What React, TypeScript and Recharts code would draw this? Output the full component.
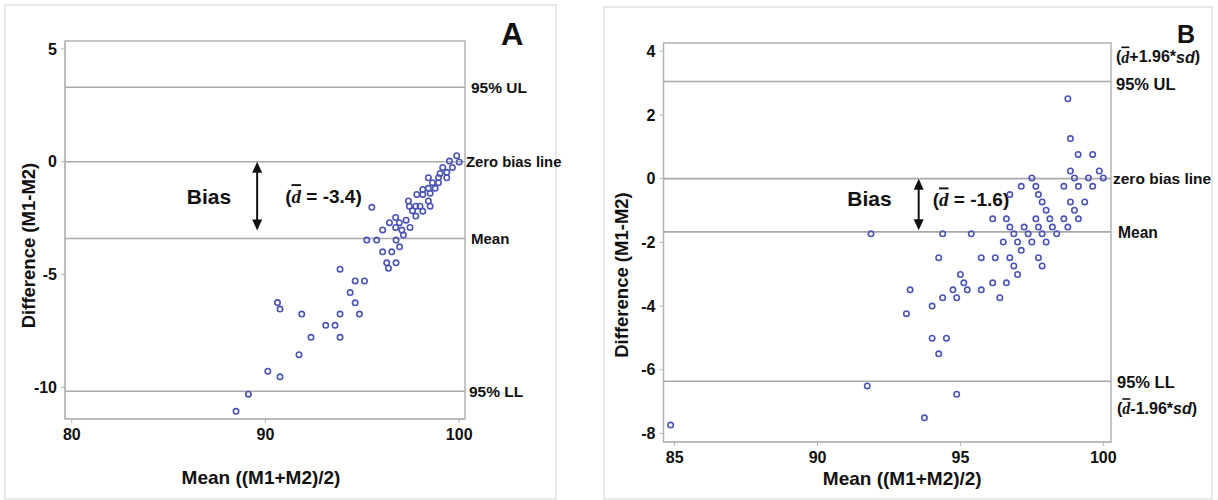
import React from "react";
import { ScatterChart, Scatter, XAxis, YAxis, ReferenceLine, ReferenceArea } from "recharts";

// Panel A: Bland-Altman, mean vs difference
const aMean = [
    88.48, 89.12, 90.12, 90.75, 90.62, 90.75, 91.87, 91.73, 92.35, 93.11, 93.59, 93.85, 93.85, 93.85,
    94.37, 94.63, 94.63, 94.85, 95.11, 95.23, 95.49, 95.74, 96.05, 96.05, 96.26, 96.35, 96.4, 96.52,
    96.72, 96.72, 96.74, 96.74, 96.91, 96.92, 97.04, 97.12, 97.26, 97.38, 97.43, 97.46, 97.59, 97.76,
    97.76, 97.81, 97.98, 98.12, 98.12, 98.12, 98.41, 98.41, 98.41, 98.5, 98.5, 98.62, 98.76, 98.93,
    98.93, 99.01, 99.15, 99.36, 99.36, 99.5, 99.65, 99.87, 100.0,
];
const aDiff = [
    -11.06, -10.3, -9.28, -9.53, -6.24, -6.53, -6.75, -8.55, -7.78, -7.25, -7.25, -6.75, -7.78, -4.76,
    -5.8, -6.25, -5.28, -6.75, -5.28, -3.47, -2.02, -3.47, -3.02, -3.99, -4.48, -4.72, -2.7, -3.99,
    -2.47, -2.91, -3.47, -4.48, -2.7, -3.77, -3.03, -3.25, -2.59, -1.74, -1.97, -2.91, -2.17, -1.97,
    -2.41, -1.45, -1.97, -1.23, -1.45, -2.19, -0.71, -1.18, -1.74, -1.4, -1.97, -0.93, -1.18, -0.71,
    -0.93, -0.52, -0.25, -0.47, -0.71, 0.03, -0.25, 0.27, -0.01,
];
const aXTicks = [80, 90, 100];
const aYTicks = [5, 0, -5, -10];
const aUpper = 3.3;
const aBias = -3.4;
const aLower = -10.17;

// Panel B
const bMean = [
    84.86, 91.74, 91.87, 93.11, 93.24, 93.74, 94.01, 94.01, 94.24, 94.24, 94.38, 94.38, 94.51, 94.74,
    94.87, 94.87, 95.0, 95.12, 95.24, 95.38, 95.73, 95.73, 96.13, 96.13, 96.22, 96.38, 96.5, 96.61,
    96.61, 96.73, 96.73, 96.73, 96.87, 96.87, 97.0, 97.0, 97.13, 97.13, 97.23, 97.37, 97.5, 97.5,
    97.64, 97.64, 97.73, 97.73, 97.73, 97.86, 97.86, 97.86, 98.0, 98.0, 98.13, 98.22, 98.37, 98.62,
    98.62, 98.76, 98.76, 98.85, 98.85, 98.85, 98.99, 98.99, 99.12, 99.13, 99.13, 99.35, 99.48, 99.63,
    99.63, 99.86, 100.0,
];
const bDiff = [
    -7.74, -6.51, -1.73, -4.24, -3.49, -7.51, -4.0, -5.01, -2.48, -5.5, -1.73, -3.74, -5.01, -3.49,
    -3.74, -6.77, -3.01, -3.27, -3.49, -1.73, -2.48, -3.49, -1.26, -3.27, -2.48, -3.74, -1.99, -1.26,
    -3.27, -0.5, -1.52, -2.48, -1.73, -2.74, -1.99, -3.01, -0.24, -2.25, -1.52, -1.73, 0.02, -1.99,
    -0.24, -1.26, -0.5, -1.52, -2.48, -0.73, -1.73, -2.74, -0.99, -1.99, -1.26, -1.52, -1.73, -0.24,
    -1.26, 2.51, -1.52, 1.26, 0.24, -0.73, 0.02, -0.99, 0.76, -0.24, -1.26, -0.73, 0.02, 0.76,
    -0.24, 0.24, 0.02,
];
const bXTicks = [85, 90, 95, 100];
const bYTicks = [4, 2, 0, -2, -4, -6, -8];
const bUpper = 3.05;
const bBias = -1.67;
const bLower = -6.36;

const FONT = "'Liberation Sans', Arial, sans-serif";
const INK = "#111";
const LINE = "#a9a9a9";
const FRAME = "#b3b3b3";
const DOT = "#4a54b4";

const toPoints = (xs: number[], ys: number[]) => xs.map((x, i) => ({ x, y: ys[i] }));

const DBar = () => (
    <tspan fontFamily="'Liberation Serif', serif" fontStyle="italic" style={{ textDecoration: "overline" }}>
        d
    </tspan>
);

const Dot = (p: any) => <circle cx={p.cx} cy={p.cy} r={2.7} fill="none" stroke={DOT} strokeWidth={1.6} />;

const SideLabel = (props: any) => {
    const { viewBox, dx, lines } = props;
    if (!viewBox) return null;
    const x = viewBox.x + viewBox.width + dx;
    return (
        <g>
            {lines.map((l: any, i: number) => (
                <text key={i} x={x} y={viewBox.y + l.dy} fontSize={l.size} fontWeight="bold" fontFamily={FONT}
                    fill={INK} dominantBaseline="central">
                    {l.content}
                </text>
            ))}
        </g>
    );
};

const AxisTitle = (props: any) => {
    const { viewBox, text, dx, dy, vertical, size } = props;
    if (!viewBox) return null;
    const cx = viewBox.x + viewBox.width / 2 + dx;
    const cy = viewBox.y + viewBox.height / 2 + dy;
    return (
        <text transform={`translate(${cx},${cy})${vertical ? " rotate(-90)" : ""}`} textAnchor="middle"
            dominantBaseline="central" fontSize={size} fontWeight="bold" fontFamily={FONT} fill={INK}>
            {text}
        </text>
    );
};

const BiasArrow = (p: any) => {
    const { x1, y1, y2, value, biasGap, valueGap, biasDy, valueDy } = p;
    const top = Math.min(y1, y2);
    const bot = Math.max(y1, y2);
    const mid = (top + bot) / 2;
    return (
        <g>
            <line x1={x1} y1={top + 8} x2={x1} y2={bot - 8} stroke={INK} strokeWidth={2} />
            <polygon points={`${x1},${top} ${x1 - 5},${top + 11} ${x1 + 5},${top + 11}`} fill={INK} />
            <polygon points={`${x1},${bot} ${x1 - 5},${bot - 11} ${x1 + 5},${bot - 11}`} fill={INK} />
            <text x={x1 - biasGap} y={mid + biasDy} textAnchor="end" dominantBaseline="central" fontSize={21}
                fontWeight="bold" fontFamily={FONT} fill={INK}>
                Bias
            </text>
            <text x={x1 + valueGap} y={mid + valueDy} dominantBaseline="central" fontSize={19} fontWeight="bold"
                fontFamily={FONT} fill={INK}>
                (<DBar /> = {value})
            </text>
        </g>
    );
};

const tickStyle = { fill: INK, fontSize: 16, fontWeight: "bold", fontFamily: FONT };

const PanelA = () => {
    const xDom: [number, number] = [79.65, 100.3];
    const yDom: [number, number] = [-11.4, 5.35];
    return (
        <ScatterChart width={600} height={500} margin={{ top: 41, right: 135, bottom: 0, left: 0 }}>
            <XAxis type="number" dataKey="x" domain={xDom} ticks={aXTicks} allowDataOverflow height={81}
                tickSize={4} tickMargin={6} stroke={FRAME} tick={tickStyle}
                label={<AxisTitle text="Mean ((M1+M2)/2)" dx={-4} dy={17.5} size={19} />} />
            <YAxis type="number" dataKey="y" domain={yDom} ticks={aYTicks} allowDataOverflow width={65}
                tickSize={4} tickMargin={4} stroke={FRAME} tick={tickStyle}
                label={<AxisTitle text="Difference (M1-M2)" dx={-4} dy={15.5} size={18.5} vertical />} />
            <ReferenceArea x1={xDom[0]} x2={xDom[1]} y1={yDom[0]} y2={yDom[1]} fill="none" stroke={FRAME}
                strokeWidth={1.5} />
            <ReferenceLine y={aUpper} stroke={LINE} strokeWidth={1.6}
                label={<SideLabel dx={6} lines={[{ content: "95% UL", dy: 0, size: 15.5 }]} />} />
            <ReferenceLine y={0} stroke={LINE} strokeWidth={1.6}
                label={<SideLabel dx={1} lines={[{ content: "Zero bias line", dy: 0, size: 14.8 }]} />} />
            <ReferenceLine y={aBias} stroke={LINE} strokeWidth={1.6}
                label={<SideLabel dx={6} lines={[{ content: "Mean", dy: 0, size: 15 }]} />} />
            <ReferenceLine y={aLower} stroke={LINE} strokeWidth={1.6}
                label={<SideLabel dx={4} lines={[{ content: "95% LL", dy: 0, size: 15.5 }]} />} />
            <ReferenceLine segment={[{ x: 89.57, y: 0 }, { x: 89.57, y: -3.05 }]}
                shape={(p: any) => <BiasArrow {...p} value="-3.4" biasGap={26} valueGap={28} biasDy={0.5} valueDy={0} />} />
            <Scatter data={toPoints(aMean, aDiff)} shape={Dot} isAnimationActive={false} />
        </ScatterChart>
    );
};

const PanelB = () => {
    const xDom: [number, number] = [84.61, 100.27];
    const yDom: [number, number] = [-8.27, 4.26];
    return (
        <ScatterChart width={618} height={500} margin={{ top: 43, right: 107, bottom: 0, left: 0 }}>
            <XAxis type="number" dataKey="x" domain={xDom} ticks={bXTicks} allowDataOverflow height={58}
                tickSize={4} tickMargin={6} stroke={FRAME} tick={tickStyle}
                label={<AxisTitle text="Mean ((M1+M2)/2)" dx={15} dy={7.6} size={19} />} />
            <YAxis type="number" dataKey="y" domain={yDom} ticks={bYTicks} allowDataOverflow width={63.5}
                tickSize={4} tickMargin={4} stroke={FRAME} tick={tickStyle}
                label={<AxisTitle text="Difference (M1-M2)" dx={-10} dy={32.5} size={18.5} vertical />} />
            <ReferenceArea x1={xDom[0]} x2={xDom[1]} y1={yDom[0]} y2={yDom[1]} fill="none" stroke={FRAME}
                strokeWidth={1.5} />
            <ReferenceLine y={bUpper} stroke={LINE} strokeWidth={1.6}
                label={
                    <SideLabel dx={5} lines={[
                        { content: <>(<DBar />+1.96*<tspan fontStyle="italic">sd</tspan>)</>, dy: -25, size: 16 },
                        { content: "95% UL", dy: 2.5, size: 16.5 },
                    ]} />
                } />
            <ReferenceLine y={0} stroke={LINE} strokeWidth={1.6}
                label={<SideLabel dx={2} lines={[{ content: "zero bias line", dy: 0, size: 15.5 }]} />} />
            <ReferenceLine y={bBias} stroke={LINE} strokeWidth={1.6}
                label={<SideLabel dx={7} lines={[{ content: "Mean", dy: 0.5, size: 15.6 }]} />} />
            <ReferenceLine y={bLower} stroke={LINE} strokeWidth={1.6}
                label={
                    <SideLabel dx={6} lines={[
                        { content: "95% LL", dy: 0.5, size: 16.5 },
                        { content: <>(<DBar />-1.96*<tspan fontStyle="italic">sd</tspan>)</>, dy: 27, size: 16 },
                    ]} />
                } />
            <ReferenceLine segment={[{ x: 93.54, y: 0 }, { x: 93.54, y: -1.62 }]}
                shape={(p: any) => <BiasArrow {...p} value="-1.6" biasGap={27} valueGap={14} biasDy={-6} valueDy={-5} />} />
            <Scatter data={toPoints(bMean, bDiff)} shape={Dot} isAnimationActive={false} />
        </ScatterChart>
    );
};

export default function App() {
    return (
        <div style={{ position: "absolute", left: 0, top: 0, width: 1218, height: 500, background: "#fff", overflow: "hidden" }}>
            <svg width={1218} height={500} style={{ position: "absolute", left: 0, top: 0 }}>
                <rect x={5} y={5} width={551} height={494} fill="none" stroke="#e2e2e2" strokeWidth={1.5} />
                <rect x={604} y={7} width={608} height={492} fill="none" stroke="#e2e2e2" strokeWidth={1.5} />
                <text x={501} y={45} fontSize={31} fontWeight="bold" fontFamily={FONT} fill={INK}>A</text>
                <text x={1177} y={43} fontSize={25} fontWeight="bold" fontFamily={FONT} fill={INK}>B</text>
            </svg>
            <div style={{ position: "absolute", left: 0, top: 0 }}>
                <PanelA />
            </div>
            <div style={{ position: "absolute", left: 600, top: 0 }}>
                <PanelB />
            </div>
        </div>
    );
}
